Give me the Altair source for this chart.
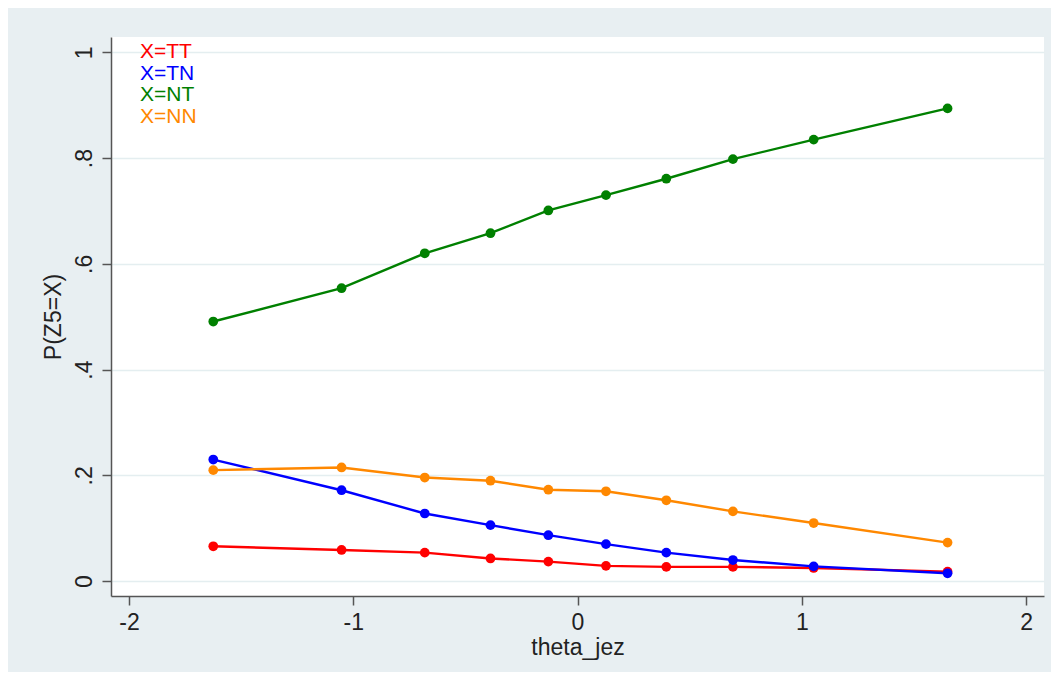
import altair as alt
import pandas as pd

theta = [-1.624, -1.052, -0.681, -0.388, -0.130, 0.127, 0.396, 0.693, 1.053, 1.650]
p_tt = [0.066, 0.059, 0.054, 0.043, 0.037, 0.029, 0.027, 0.027, 0.025, 0.018]
p_tn = [0.230, 0.172, 0.128, 0.106, 0.087, 0.070, 0.054, 0.040, 0.028, 0.015]
p_nt = [0.491, 0.554, 0.620, 0.658, 0.701, 0.730, 0.761, 0.798, 0.835, 0.894]
p_nn = [0.210, 0.215, 0.196, 0.190, 0.173, 0.170, 0.153, 0.132, 0.110, 0.073]
series = ["X=TT", "X=TN", "X=NT", "X=NN"]
colors = ["#ff0000", "#0000ff", "#008000", "#ff8800"]

rows = []
for name, vals in zip(series, [p_tt, p_tn, p_nt, p_nn]):
    for t, v in zip(theta, vals):
        rows.append({"theta": t, "p": v, "series": name})
df = pd.DataFrame(rows)
leg = pd.DataFrame({"series": series})

FONT = "Liberation Sans"
FS = 23
color = alt.Color("series:N", scale=alt.Scale(domain=series, range=colors), legend=None)

x = alt.X("theta:Q", title="theta_jez",
          scale=alt.Scale(domain=[-2.08, 2.08], nice=False, zero=False),
          axis=alt.Axis(values=[-2, -1, 0, 1, 2], grid=False,
                        labelExpr="'' + datum.value",
                        labelPadding=6, titlePadding=2))
y = alt.Y("p:Q", title="P(Z5=X)",
          scale=alt.Scale(domain=[-0.028, 1.029], nice=False, zero=False),
          axis=alt.Axis(values=[0, 0.2, 0.4, 0.6, 0.8, 1], grid=True,
                        labelExpr="replace('' + datum.value, '0.', '.')",
                        labelAngle=270, labelAlign="center", labelBaseline="bottom",
                        labelPadding=6, titlePadding=8))

base = alt.Chart(df)
lines = base.mark_line(strokeWidth=2.4).encode(x=x, y=y, color=color, detail="series:N")
points = base.mark_point(filled=True, size=95, opacity=1).encode(x=x, y=y, color=color)

texts = alt.Chart(leg).mark_text(align="left", baseline="middle", font=FONT, fontSize=21).encode(
    x=alt.value(29),
    y=alt.Y("series:N", sort=series, scale=alt.Scale(range=[15, 80], padding=0), axis=None),
    text="series:N",
    color=color,
)

main = alt.layer(lines, points)
chart = alt.layer(main, texts).resolve_scale(y="independent").properties(
    width=933, height=559,
    autosize=alt.AutoSizeParams(type="none"),
    padding={"left": 103, "top": 29, "right": 7, "bottom": 76},
    background="#e8eff2",
).configure_view(fill="white", stroke=None).configure_axis(
    domainColor="#555555", domainWidth=1.5,
    tickColor="#555555", tickWidth=1.5, tickSize=9,
    labelFont=FONT, labelFontSize=FS, labelColor="#222222",
    titleFont=FONT, titleFontSize=FS, titleColor="#222222", titleFontWeight="normal",
    gridColor="#e4eef0", gridWidth=1.5,
)

chart.save("out.html", embed_options={"renderer": "svg", "actions": False})
